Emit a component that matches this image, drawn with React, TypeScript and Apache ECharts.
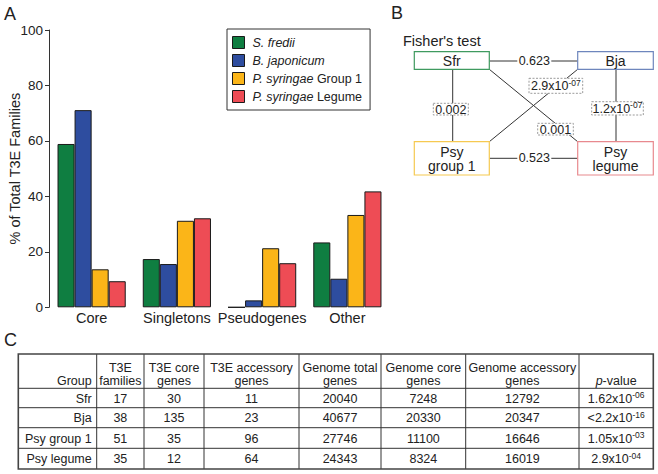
import React, { useEffect, useRef } from 'react';
import * as echarts from 'echarts';

// ---------- Panel A data ----------
const categories = ['Core', 'Singletons', 'Pseudogenes', 'Other'];
const seriesNames = ['S. fredii', 'B. japonicum', 'P. syringae Group 1', 'P. syringae Legume'];
const sFredii = [58.9, 17.4, 0, 23.4];
const bJaponicum = [71.1, 15.6, 2.5, 10.3];
const psyGroup1 = [13.7, 31.2, 21.3, 33.3];
const psyLegume = [9.4, 32.1, 15.9, 41.8];
const barColors = ['#0f7e41', '#2e4d9f', '#fbb518', '#ee4c55'];

// ---------- Panel B data ----------
const fisherNodes = ['Sfr', 'Bja', 'Psy\ngroup 1', 'Psy\nlegume'];
const nodeColors = ['#3f9a5f', '#6e86bd', '#f6c951', '#e8898e'];
// Sfr-Bja, Psy1-PsyLeg, Sfr-Psy1, Bja-PsyLeg, Psy1-Bja, Sfr-PsyLeg
const fisherP = ['0.623', '0.523', '0.002', '1.2x10^-07', '2.9x10^-07', '0.001'];

// ---------- Panel C data ----------
const tableHeaders = [
  'Group', 'T3E\nfamilies', 'T3E core\ngenes', 'T3E accessory\ngenes',
  'Genome total\ngenes', 'Genome core\ngenes', 'Genome accessory\ngenes', 'p-value',
];
const groups = ['Sfr', 'Bja', 'Psy group 1', 'Psy legume'];
const t3eFamilies = [17, 38, 51, 35];
const t3eCore = [30, 135, 35, 12];
const t3eAccessory = [11, 23, 96, 64];
const genomeTotal = [20040, 40677, 27746, 24343];
const genomeCore = [7248, 20330, 11100, 8324];
const genomeAccessory = [12792, 20347, 16646, 16019];
const pValues = ['1.62x10^-06', '<2.2x10^-16', '1.05x10^-03', '2.9x10^-04'];

const FONT = '"Liberation Sans", Arial, Helvetica, sans-serif';
const INK = '#222';

const RICH = {
  b: { fontSize: 12.5, lineHeight: 16, fontFamily: FONT, fill: INK },
  s: { fontSize: 8.5, lineHeight: 8, verticalAlign: 'top', fontFamily: FONT, fill: INK },
  i: { fontSize: 12.5, lineHeight: 16, fontFamily: FONT, fill: INK, fontStyle: 'italic' },
};

function richSup(v: string): string {
  const k = v.indexOf('^');
  if (k < 0) return `{b|${v}}`;
  return `{b|${v.slice(0, k)}}{s|${v.slice(k + 1)}}`;
}

function txt(x: number, y: number, text: string, opts: any = {}) {
  return {
    type: 'text',
    x,
    y,
    silent: true,
    style: {
      text,
      fill: INK,
      fontSize: 12.5,
      fontFamily: FONT,
      textAlign: 'center',
      textVerticalAlign: 'middle',
      ...opts,
    },
  };
}

function richTxt(x: number, y: number, text: string, align = 'center') {
  return txt(x, y, text, { rich: RICH, textAlign: align });
}

function line(x1: number, y1: number, x2: number, y2: number, stroke = '#333', lineWidth = 1) {
  return {
    type: 'line',
    silent: true,
    shape: { x1, y1, x2, y2 },
    style: { stroke, lineWidth },
  };
}

function rect(x: number, y: number, w: number, h: number, style: any) {
  return { type: 'rect', silent: true, shape: { x, y, width: w, height: h }, style };
}

function buildPanelB(): any[] {
  const els: any[] = [];
  const boxes = [
    [414.3, 51.7, 75, 17.6],
    [577.7, 51.7, 75.6, 17.6],
    [414.3, 141.7, 75, 33.3],
    [577.7, 141.7, 75.6, 33.3],
  ];
  // connecting lines
  els.push(line(489.3, 61, 577.7, 61));
  els.push(line(489.3, 158.3, 577.7, 158.3));
  els.push(line(452.7, 69.3, 452.7, 141.7));
  els.push(line(616, 69.3, 616, 141.7));
  els.push(line(489.3, 69.3, 577.7, 141.7));
  els.push(line(489.3, 141.7, 577.7, 69.3));
  // node boxes
  boxes.forEach((b, i) => {
    els.push(rect(b[0], b[1], b[2], b[3], { fill: '#fff', stroke: nodeColors[i], lineWidth: 1.2 }));
    els.push(txt(b[0] + b[2] / 2, b[1] + b[3] / 2 + 0.5, fisherNodes[i], { fontSize: 14, lineHeight: 14.5 }));
  });
  // solid-line labels (white background)
  const plain = [
    [534.3, 61],
    [534.3, 158.3],
  ];
  plain.forEach((p, i) => {
    els.push(rect(p[0] - 17, p[1] - 7, 34, 14, { fill: '#fff', stroke: 'none' }));
    els.push(txt(p[0], p[1], fisherP[i], { fontSize: 12.5 }));
  });
  // dashed-box labels
  const dashed = [
    [433.3, 103.3, 35, 11.7],
    [591.7, 101.7, 51.6, 13.3],
    [529, 78.3, 53.7, 15],
    [537.7, 123.3, 35.6, 11.7],
  ];
  dashed.forEach((d, j) => {
    els.push(rect(d[0], d[1], d[2], d[3], { fill: '#fff', stroke: '#9a9a9a', lineWidth: 1, lineDash: [2, 1.5] }));
    els.push(richTxt(d[0] + d[2] / 2, d[1] + d[3] / 2 + 0.5, richSup(fisherP[j + 2])));
  });
  els.push(txt(403, 41, "Fisher's test", { fontSize: 14.5, textAlign: 'left' }));
  els.push(txt(391, 13, 'B', { fontSize: 18, textAlign: 'left' }));
  return els;
}

function buildPanelC(): any[] {
  const els: any[] = [];
  const cols = [18.3, 96.7, 144, 204, 299, 381, 465.7, 579, 653.3];
  const rows = [354, 388.3, 407.7, 427.7, 448.3, 469];
  // header texts
  tableHeaders.forEach((h, c) => {
    const parts = h.split('\n');
    const cx = (cols[c] + cols[c + 1]) / 2;
    const align = c === 0 ? 'right' : 'center';
    const x = c === 0 ? cols[1] - 5 : cx;
    if (c === 7) {
      els.push(txt(x, 380.5, '{i|p}{b|-value}', { rich: RICH }));
      return;
    }
    if (parts.length === 2) {
      els.push(txt(x, 367.8, parts[0], { textAlign: align }));
      els.push(txt(x, 380.5, parts[1], { textAlign: align }));
    } else {
      els.push(txt(x, 380.5, parts[0], { textAlign: align }));
    }
  });
  const columns: (string | number)[][] = [
    groups, t3eFamilies, t3eCore, t3eAccessory, genomeTotal, genomeCore, genomeAccessory,
  ];
  for (let r = 0; r < groups.length; r++) {
    const cy = (rows[r + 1] + rows[r + 2]) / 2 + 0.5;
    columns.forEach((col, c) => {
      if (c === 0) {
        els.push(txt(cols[1] - 5, cy, String(col[r]), { textAlign: 'right' }));
      } else {
        els.push(txt((cols[c] + cols[c + 1]) / 2, cy, String(col[r])));
      }
    });
    els.push(richTxt((cols[7] + cols[8]) / 2, cy, richSup(pValues[r])));
  }
  // grid lines
  for (let i = 1; i < cols.length - 1; i++) {
    els.push(line(cols[i], rows[0], cols[i], rows[rows.length - 1], '#333', 1));
  }
  for (let j = 1; j < rows.length - 1; j++) {
    els.push(line(cols[0], rows[j], cols[cols.length - 1], rows[j], '#333', 1));
  }
  els.push(rect(cols[0], rows[0], cols[8] - cols[0], rows[5] - rows[0], { fill: 'none', stroke: '#444', lineWidth: 1.6 }));
  els.push(txt(4, 340, 'C', { fontSize: 18, textAlign: 'left' }));
  return els;
}

const legendFormat: Record<string, string> = {
  'S. fredii': '{i|S. fredii}',
  'B. japonicum': '{i|B. japonicum}',
  'P. syringae Group 1': '{i|P. syringae} {n|Group 1}',
  'P. syringae Legume': '{i|P. syringae} {n|Legume}',
};

export default function App() {
  const ref = useRef<HTMLDivElement>(null);
  useEffect(() => {
    if (!ref.current) return;
    const chart = echarts.init(ref.current, undefined, { renderer: 'svg' });
    const values = [sFredii, bJaponicum, psyGroup1, psyLegume];
    const option: any = {
      animation: false,
      backgroundColor: '#fff',
      textStyle: { fontFamily: FONT },
      grid: { left: 49, top: 30, width: 341, height: 277.3, containLabel: false, outerBoundsMode: 'none' },
      legend: {
        left: 227,
        top: 29,
        orient: 'vertical',
        data: seriesNames,
        icon: 'rect',
        itemWidth: 12,
        itemHeight: 12,
        itemGap: 5,
        padding: [7, 8, 7, 5],
        borderColor: '#333',
        borderWidth: 1,
        selectedMode: false,
        itemStyle: { borderColor: '#1a1a1a', borderWidth: 1 },
        formatter: (name: string) => legendFormat[name] || name,
        textStyle: {
          fontSize: 12.5,
          color: INK,
          padding: [0, 0, 0, 3],
          rich: {
            i: { fontStyle: 'italic', fontSize: 12.5, fontFamily: FONT, color: INK },
            n: { fontSize: 12.5, fontFamily: FONT, color: INK },
          },
        },
      },
      xAxis: {
        type: 'category',
        data: categories,
        axisLine: { show: false },
        axisTick: { show: false },
        axisLabel: { fontSize: 14.5, color: INK, margin: 3, fontFamily: FONT, interval: 0, hideOverlap: false },
      },
      yAxis: {
        type: 'value',
        min: 0,
        max: 100,
        interval: 20,
        name: '% of Total T3E Families',
        nameLocation: 'middle',
        nameGap: 27,
        nameMoveOverlap: false,
        nameTextStyle: { fontSize: 14.5, color: INK, fontFamily: FONT },
        axisLine: { show: true, lineStyle: { color: '#333', width: 1 } },
        axisTick: { show: true, length: 4, lineStyle: { color: '#333' } },
        axisLabel: { fontSize: 13.5, color: INK, margin: 6, fontFamily: FONT },
        splitLine: { show: false },
      },
      series: seriesNames.map((name, i) => ({
        type: 'bar',
        name,
        data: values[i],
        barGap: '0%',
        barCategoryGap: '20%',
        itemStyle: { color: barColors[i], borderColor: '#1a1a1a', borderWidth: 1 },
      })),
      graphic: [
        txt(4, 14, 'A', { fontSize: 18, textAlign: 'left' }),
        ...buildPanelB(),
        ...buildPanelC(),
      ],
    };
    chart.setOption(option);
    return () => chart.dispose();
  }, []);
  return (
    <div
      ref={ref}
      style={{ position: 'absolute', left: 0, top: 0, width: 658, height: 474 }}
    />
  );
}
